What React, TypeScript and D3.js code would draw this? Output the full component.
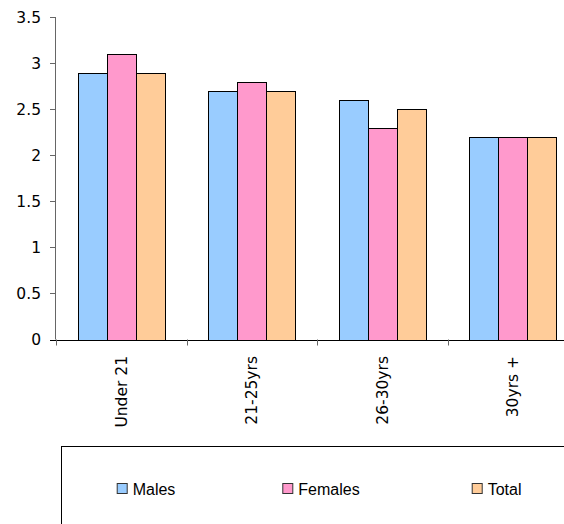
import React from "react";
import * as d3 from "d3";

const categories = ["Under 21", "21-25yrs", "26-30yrs", "30yrs +"];
const seriesNames = ["Males", "Females", "Total"];
const males = [2.9, 2.7, 2.6, 2.2];
const females = [3.1, 2.8, 2.3, 2.2];
const total = [2.9, 2.7, 2.5, 2.2];
const yTicks = [0, 0.5, 1, 1.5, 2, 2.5, 3, 3.5];
const colors = ["#99CCFF", "#FF99CC", "#FFCC99"];

const W = 564;
const H = 524;
const left = 56;
const right = 578;
const top = 17.3;
const bottom = 339.5;

export default function App() {
  const series = [males, females, total];
  const x = d3.scaleBand<string>().domain(categories).range([left, right]).paddingInner(0).paddingOuter(0);
  const inner = d3.scaleBand<string>().domain(seriesNames).range([0, x.bandwidth()]).paddingInner(0).paddingOuter(0.75);
  const y = d3.scaleLinear().domain([0, 3.5]).range([bottom, top]);
  const tickFont = "'DejaVu Sans', Verdana, sans-serif";
  const legendFont = "'Liberation Sans', Arial, sans-serif";
  const legendX = [116.7, 282.3, 471.7];
  return (
    <svg width={W} height={H} style={{ position: "absolute", left: 0, top: 0, background: "#fff" }}>
      <rect x={0} y={0} width={W} height={H} fill="#fff" />
      {/* bars */}
      {categories.map((c, ci) =>
        seriesNames.map((s, si) => {
          const v = series[si][ci];
          const bx = (x(c) as number) + (inner(s) as number);
          return (
            <rect
              key={c + s}
              x={Math.round(bx) + 0.5}
              y={Math.round(y(v)) + 0.5}
              width={Math.round(inner.bandwidth())}
              height={Math.round(y(0)) - Math.round(y(v))}
              fill={colors[si]}
              stroke="#000"
              strokeWidth={1}
            />
          );
        })
      )}
      {/* y axis */}
      <line x1={55.5} x2={55.5} y1={top} y2={bottom} stroke="#666" strokeWidth={1} />
      {yTicks.map((t) => (
        <g key={t}>
          <line x1={50} x2={56} y1={Math.round(y(t)) + 0.5} y2={Math.round(y(t)) + 0.5} stroke="#666" />
          <text
            x={41}
            y={y(t)}
            dy="0.36em"
            textAnchor="end"
            fontFamily={tickFont}
            fontSize={15.5}
            fill="#000"
          >
            {t}
          </text>
        </g>
      ))}
      {/* x axis */}
      <line x1={50} x2={W} y1={Math.round(bottom) + 0.5} y2={Math.round(bottom) + 0.5} stroke="#000" />
      {categories.map((c) => (
        <line
          key={"t" + c}
          x1={Math.round(x(c) as number) + 0.5}
          x2={Math.round(x(c) as number) + 0.5}
          y1={bottom}
          y2={bottom + 6}
          stroke="#666"
        />
      ))}
      {categories.map((c) => {
        const cx = (x(c) as number) + x.bandwidth() / 2;
        return (
          <text
            key={"l" + c}
            transform={`translate(${cx},356) rotate(-90)`}
            textAnchor="end"
            dy="0.36em"
            fontFamily={tickFont}
            fontSize={15.5}
            fill="#000"
          >
            {c}
          </text>
        );
      })}
      {/* legend */}
      <rect x={61.5} y={446.5} width={W} height={H} fill="#fff" stroke="#000" strokeWidth={1} />
      {seriesNames.map((s, i) => (
        <g key={"lg" + s}>
          <rect x={legendX[i] + 0.5} y={483.5} width={10} height={10} fill={colors[i]} stroke="#333" strokeWidth={1} />
          <text x={legendX[i] + 16} y={489} dy="0.35em" fontFamily={legendFont} fontSize={16} fill="#000">
            {s}
          </text>
        </g>
      ))}
    </svg>
  );
}
